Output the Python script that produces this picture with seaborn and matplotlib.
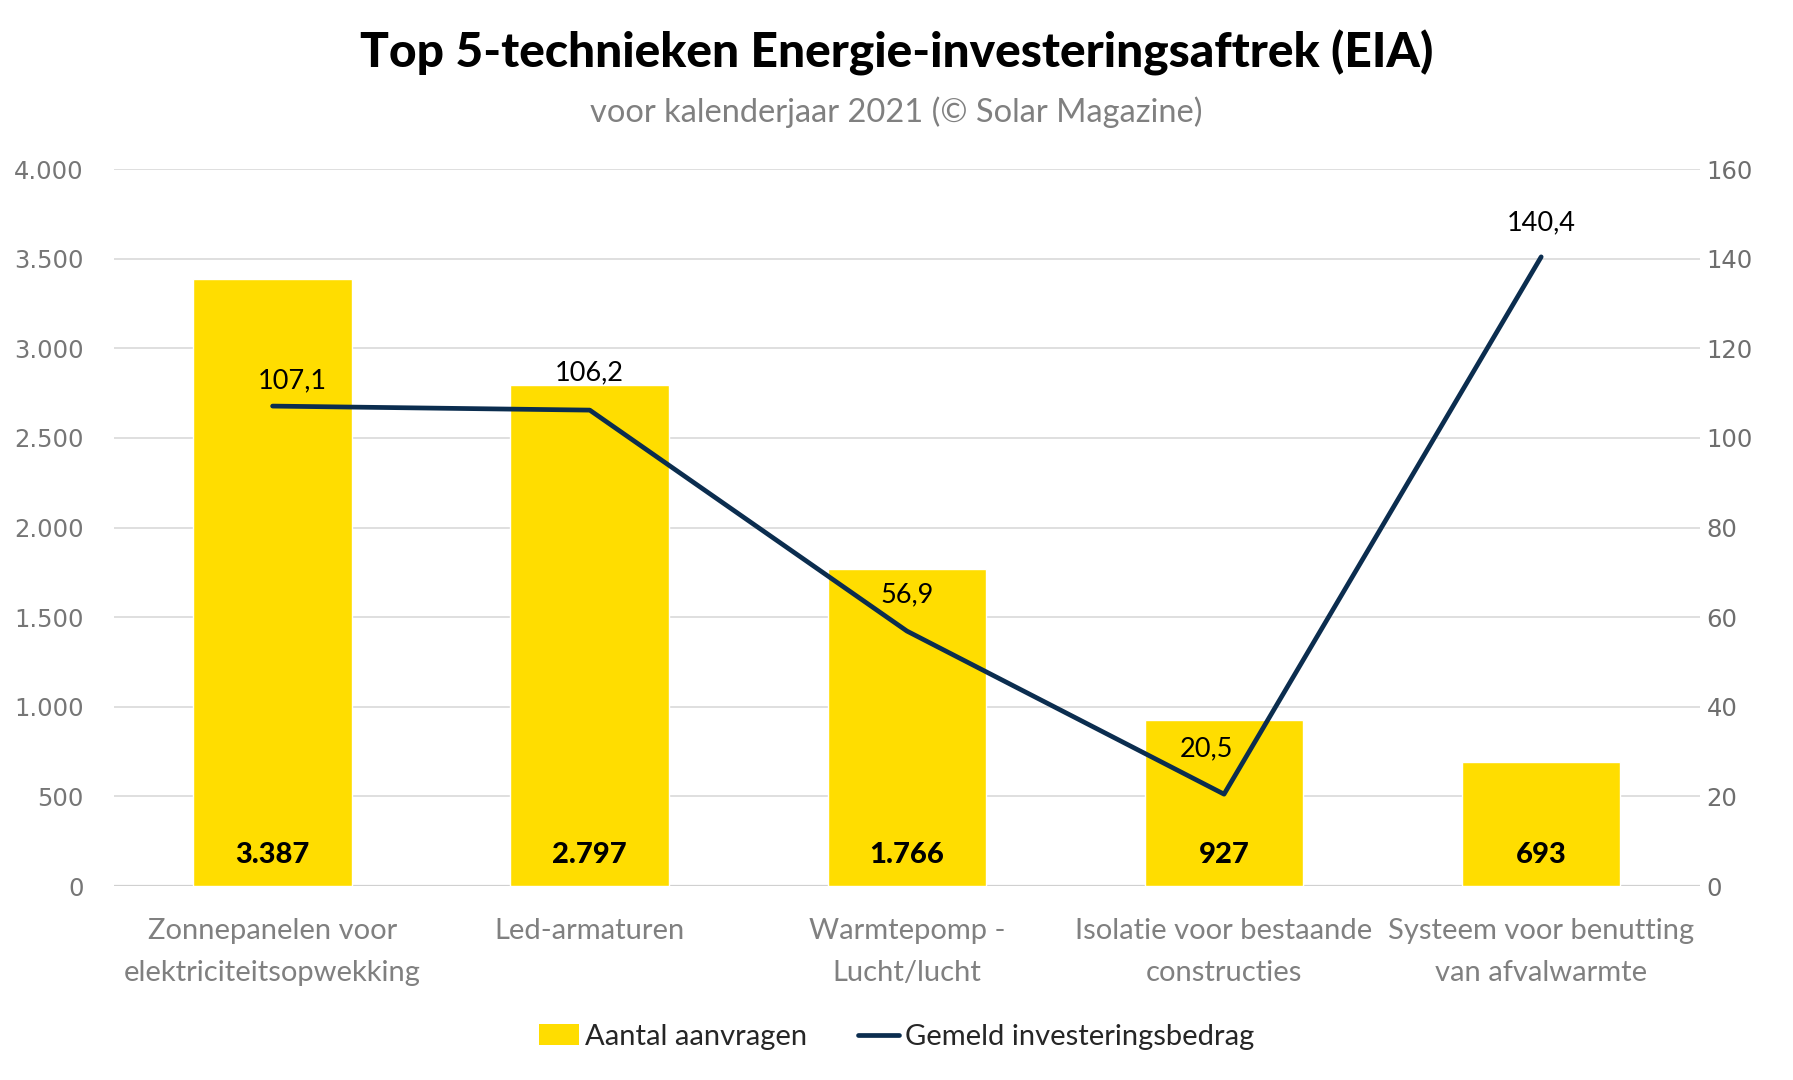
import matplotlib
matplotlib.use("Agg")
import matplotlib.pyplot as plt
import seaborn as sns
import numpy as np
import pandas as pd
from matplotlib.patches import Patch
from matplotlib.lines import Line2D
from matplotlib.ticker import FuncFormatter

categories = ["Zonnepanelen voor\nelektriciteitsopwekking", "Led-armaturen",
              "Warmtepomp -\nLucht/lucht", "Isolatie voor bestaande\nconstructies",
              "Systeem voor benutting\nvan afvalwarmte"]
aanvragen = [3387, 2797, 1766, 927, 693]
investering = [107.1, 106.2, 56.9, 20.5, 140.4]
left_ticks = [0, 500, 1000, 1500, 2000, 2500, 3000, 3500, 4000]
right_ticks = [0, 20, 40, 60, 80, 100, 120, 140, 160]

sns.set_theme(style="white")
plt.rcParams['font.family'] = ['Lato', 'DejaVu Sans']

YELLOW = "#FFDD00"
NAVY = "#0B2D4F"
GRID = "#D9D9D9"
TICK = "#767676"

df = pd.DataFrame({"cat": categories, "n": aanvragen, "inv": investering})

fig = plt.figure(figsize=(17.93, 10.8), dpi=100)
ax = fig.add_axes([0.0636, 0.1796, 0.948 - 0.0636, 0.8435 - 0.1796])

sns.barplot(data=df, x="cat", y="n", color=YELLOW, saturation=1, width=0.5, ax=ax, zorder=2)
ax.set_ylim(0, 4000)
ax.set_yticks(left_ticks)
ax.yaxis.set_major_formatter(FuncFormatter(lambda v, p: f"{int(v):,}".replace(",", ".")))
ax.grid(axis="y", color=GRID, linewidth=1.2, zorder=0)
ax.set_axisbelow(True)
ax.set_xlabel("")
ax.set_ylabel("")
for s in ax.spines.values():
    s.set_visible(False)
ax.axhline(0, color="#D0D0D0", linewidth=1.6, zorder=1)
ax.tick_params(axis="y", colors=TICK, labelsize=17.5, pad=22, length=0,
               labelfontfamily="DejaVu Sans")
ax.tick_params(axis="x", colors=TICK, labelsize=21, pad=23, length=0)
for lbl in ax.get_xticklabels():
    lbl.set_linespacing(1.75)
    lbl.set_color("#808080")
ax.set_xlim(-0.5, 4.5)

for i, v in enumerate(aanvragen):
    ax.annotate(f"{v:,}".replace(",", "."), xy=(i, 0), xytext=(0, 31), textcoords="offset pixels",
                ha="center", va="center", fontsize=21, fontweight="black", color="black", zorder=5)

ax2 = ax.twinx()
sns.lineplot(x=np.arange(len(investering)), y=investering, color=NAVY, linewidth=3.4, ax=ax2, zorder=4)
ax2.set_ylim(0, 160)
ax2.set_yticks(right_ticks)
ax2.set_ylabel("")
for s in ax2.spines.values():
    s.set_visible(False)
ax2.tick_params(axis="y", colors="#6E6E6E", labelsize=17.5, pad=5, length=0,
                labelfontfamily="DejaVu Sans")
ax2.set_xlim(-0.5, 4.5)

offsets = [(20, 25), (0, 37), (0, 36), (-18, 45), (0, 34)]
for i, (v, off) in enumerate(zip(investering, offsets)):
    ax2.annotate(f"{v:.1f}".replace(".", ","), xy=(i, v), xytext=off, textcoords="offset pixels",
                 ha="center", va="center", fontsize=19.5, color="black", zorder=6)

fig.text(0.5, 0.951, "Top 5-technieken Energie-investeringsaftrek (EIA)", ha="center", va="center",
         fontsize=34.5, fontweight="black", color="black")
fig.text(0.5, 0.896, "voor kalenderjaar 2021 (© Solar Magazine)", ha="center", va="center",
         fontsize=23.5, color="#808080")

handles = [Patch(facecolor=YELLOW, edgecolor="none"),
           Line2D([0], [0], color=NAVY, linewidth=3.4)]
fig.legend(handles, ["Aantal aanvragen", "Gemeld investeringsbedrag"], loc="center",
           bbox_to_anchor=(0.5, 0.04), ncol=2, frameon=False, fontsize=21,
           handlelength=1.4, handletextpad=0.2, columnspacing=1.75)

fig.savefig("out.png", dpi=100)
